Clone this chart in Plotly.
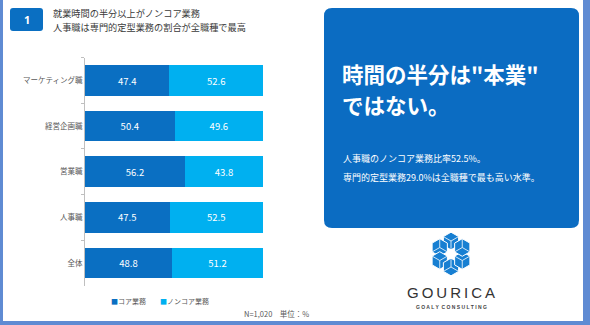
import math
import plotly.graph_objects as go

# ---------------- data ----------------
categories = ["マーケティング職", "経営企画職", "営業職", "人事職", "全体"]
core_share = [47.4, 50.4, 56.2, 47.5, 48.8]
noncore_share = [52.6, 49.6, 43.8, 52.5, 51.2]
series_names = ["コア業務", "ノンコア業務"]

title_lines = ["就業時間の半分以上がノンコア業務", "人事職は専門的定型業務の割合が全職種で最高"]
headline_lines = ['時間の半分は"本業"', "ではない。"]
body_lines = ["人事職のノンコア業務比率52.5%。", "専門的定型業務29.0%は全職種で最も高い水準。"]
note_text = "N=1,020　単位：%"

# ---------------- styling ----------------
W, H = 590, 325
DARK = "#0A6FC2"
LIGHT = "#00B0F0"
BOX = "#0B6CC2"
BORDER = "#5F8BD3"
JP = "Noto Sans CJK JP"


def px(x):
    return x / W


def py(y):
    return 1 - y / H


def rrect(x0, y0, x1, y1, r):
    pts = [
        f"M{px(x0 + r)},{py(y0)}",
        f"L{px(x1 - r)},{py(y0)}",
        f"Q{px(x1)},{py(y0)} {px(x1)},{py(y0 + r)}",
        f"L{px(x1)},{py(y1 - r)}",
        f"Q{px(x1)},{py(y1)} {px(x1 - r)},{py(y1)}",
        f"L{px(x0 + r)},{py(y1)}",
        f"Q{px(x0)},{py(y1)} {px(x0)},{py(y1 - r)}",
        f"L{px(x0)},{py(y0 + r)}",
        f"Q{px(x0)},{py(y0)} {px(x0 + r)},{py(y0)}",
        "Z",
    ]
    return " ".join(pts)


fig = go.Figure()
fig.add_trace(go.Bar(
    y=categories, x=core_share, name=series_names[0], orientation="h",
    marker=dict(color=DARK, line=dict(width=0)),
    text=[f"{v:.1f}" for v in core_share], textposition="inside",
    insidetextanchor="middle", textangle=0,
    textfont=dict(color="white", size=9.5, family=JP),
))
fig.add_trace(go.Bar(
    y=categories, x=noncore_share, name=series_names[1], orientation="h",
    marker=dict(color=LIGHT, line=dict(width=0)),
    text=[f"{v:.1f}" for v in noncore_share], textposition="inside",
    insidetextanchor="middle", textangle=0,
    textfont=dict(color="white", size=9.5, family=JP),
))

shapes = []
# border
shapes.append(dict(type="rect", xref="paper", yref="paper", x0=px(0), x1=px(3), y0=py(325), y1=py(0),
                   fillcolor=BORDER, line=dict(width=0), layer="above"))
shapes.append(dict(type="rect", xref="paper", yref="paper", x0=px(583), x1=px(590), y0=py(325), y1=py(0),
                   fillcolor=BORDER, line=dict(width=0), layer="above"))
shapes.append(dict(type="rect", xref="paper", yref="paper", x0=px(0), x1=px(590), y0=py(325), y1=py(321),
                   fillcolor=BORDER, line=dict(width=0), layer="above"))
# number badge
shapes.append(dict(type="path", xref="paper", yref="paper", path=rrect(10, 8, 43, 31, 3),
                   fillcolor=DARK, line=dict(width=0)))
# big message box
shapes.append(dict(type="path", xref="paper", yref="paper", path=rrect(324, 8, 579, 228, 8),
                   fillcolor=BOX, line=dict(width=0)))

# logo (ring of cubes)
cx, cy = 451, 254
ring_r = 13
hex_r = 8.8
for k in range(6):
    ang = math.radians(90 + 60 * k)
    hx = cx + ring_r * math.cos(ang)
    hy = cy - ring_r * math.sin(ang)
    verts = []
    for j in range(6):
        a = math.radians(30 + 60 * j + 60 * k)
        verts.append((hx + hex_r * math.cos(a), hy - hex_r * math.sin(a)))
    path = "M" + " L".join(f"{px(vx)},{py(vy)}" for vx, vy in verts) + " Z"
    shapes.append(dict(type="path", xref="paper", yref="paper", path=path,
                       fillcolor="#177FD2", line=dict(color="white", width=1)))
    for j in (0, 2, 4):
        vx, vy = verts[j]
        shapes.append(dict(type="line", xref="paper", yref="paper",
                           x0=px(hx), y0=py(hy), x1=px(vx), y1=py(vy),
                           line=dict(color="white", width=0.8)))
# center hole
hverts = []
for j in range(6):
    a = math.radians(60 * j)
    hverts.append((cx + 4.5 * math.cos(a), cy - 4.5 * math.sin(a)))
shapes.append(dict(type="path", xref="paper", yref="paper",
                   path="M" + " L".join(f"{px(vx)},{py(vy)}" for vx, vy in hverts) + " Z",
                   fillcolor="white", line=dict(color="white", width=1)))

annotations = []


def ann(x, y, text, size, color, xanchor="left", bold=False, family=JP, align="left"):
    t = f"<b>{text}</b>" if bold else text
    annotations.append(dict(x=px(x), y=py(y), xref="paper", yref="paper", text=t, showarrow=False,
                            xanchor=xanchor, yanchor="middle", align=align,
                            font=dict(size=size, color=color, family=family)))


ann(26.5, 19.5, "1", 11, "white", xanchor="center", bold=True, family="Noto Sans")
ann(51, 13.0, title_lines[0], 9.2, "#3A3A3A")
ann(51, 26.6, title_lines[1], 9.2, "#3A3A3A")
ann(340, 73, headline_lines[0], 21.5, "white", bold=True)
ann(340, 104, headline_lines[1], 21.5, "white", bold=True)
ann(341, 158, body_lines[0], 9.0, "white")
ann(341, 177, body_lines[1], 9.0, "white")
legend_text = (f"<span style='color:{DARK}'>■</span>{series_names[0]}　　"
               f"<span style='color:{LIGHT}'>■</span>{series_names[1]}")
ann(160, 301, legend_text, 7, "#595959", xanchor="center")
ann(242, 313, note_text, 7.5, "#595959")
ann(451, 292, "G\u2009O\u2009U\u2009R\u2009I\u2009C\u2009A", 15, "#333333", xanchor="center",
    family="Liberation Sans")
ann(451, 306.5, "G O A L Y  C O N S U L T I N G", 5, "#444444", xanchor="center",
    bold=True, family="Liberation Sans")

fig.update_layout(
    width=W, height=H, autosize=False,
    margin=dict(l=0, r=0, t=0, b=0),
    paper_bgcolor="white", plot_bgcolor="white",
    barmode="stack", bargap=0.33,
    showlegend=False,
    shapes=shapes, annotations=annotations,
    xaxis=dict(domain=[85 / W, 263 / W], range=[0, 100], visible=False, fixedrange=True),
    yaxis=dict(domain=[1 - 285.8 / H, 1 - 57.7 / H], type="category", autorange="reversed",
               showline=True, linecolor="#BFBFBF", linewidth=1,
               ticks="outside", tickson="boundaries", ticklen=3, tickcolor="#BFBFBF",
               showgrid=False, zeroline=False,
               tickfont=dict(size=7.5, color="#595959", family=JP)),
    font=dict(family=JP),
)

fig.write_html("out.html")
